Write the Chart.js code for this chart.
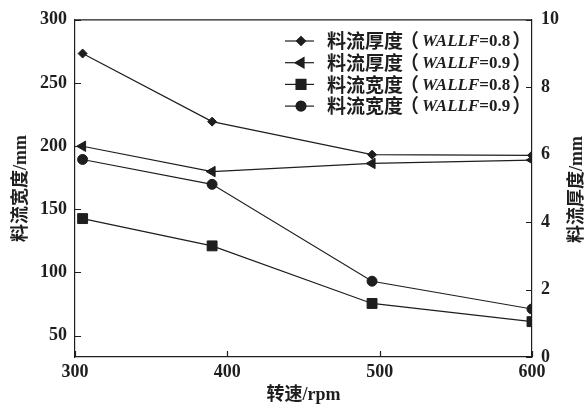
<!DOCTYPE html>
<html>
<head>
<meta charset="utf-8">
<script src="https://cdn.jsdelivr.net/npm/chart.js@4/dist/chart.umd.min.js"></script>
<style>
  html, body { margin: 0; padding: 0; background: #fff; }
  #wrap { width: 587px; height: 404px; }
</style>
</head>
<body>
<div id="wrap"><canvas id="flowChart"></canvas></div>
<script>
// rotating speed (rpm)
const speed = [305, 390, 495, 600];
// flow thickness, mm (right axis)
const thick08 = [9.0, 6.98, 6.0, 5.98];
const thick09 = [6.25, 5.5, 5.74, 5.84];
// flow width, mm (left axis)
const width08 = [142.6, 121, 75.4, 61];
const width09 = [189.4, 169.7, 93, 71];

const seriesLabels = ['料流厚度（WALLF=0.8）', '料流厚度（WALLF=0.9）', '料流宽度（WALLF=0.8）', '料流宽度（WALLF=0.9）'];
const xTicks = [300, 400, 500, 600];
const leftTicks = [50, 100, 150, 200, 250, 300];
const rightTicks = [0, 2, 4, 6, 8, 10];
const rightTitle = '料流厚度/mm';

const ink = '#1e1e1e';
const serif = '"Liberation Serif", "DejaVu Serif", serif';
const cjk = '"Noto Sans CJK SC", sans-serif';
const mixed = '"Liberation Serif", "Noto Sans CJK SC", serif';

function toPoints(ys) {
    return speed.map((x, i) => ({ x: x, y: ys[i] }));
}

function series(label, ys, axis, style, radius, rotation) {
    return {
        label: label,
        data: toPoints(ys),
        yAxisID: axis,
        borderColor: ink,
        backgroundColor: ink,
        borderWidth: 1.2,
        pointStyle: style,
        pointRadius: radius,
        pointRotation: rotation || 0,
        pointBorderWidth: 1,
        tension: 0,
        fill: false
    };
}

// inside ticks, top border, right title and the custom legend
const frame = {
    id: 'frame',
    afterDraw(chart) {
        const { ctx, chartArea: a, scales } = chart;
        ctx.save();
        ctx.strokeStyle = ink;
        ctx.lineWidth = 1.2;
        ctx.beginPath();
        ctx.moveTo(a.left, a.top);
        ctx.lineTo(a.right, a.top);
        scales.x.ticks.forEach(t => {
            const px = Math.round(scales.x.getPixelForValue(t.value)) + 0.5;
            ctx.moveTo(px, a.bottom);
            ctx.lineTo(px, a.bottom - 6);
        });
        scales.y.ticks.forEach(t => {
            const py = Math.round(scales.y.getPixelForValue(t.value)) + 0.5;
            ctx.moveTo(a.left, py);
            ctx.lineTo(a.left + 6, py);
        });
        scales.y1.ticks.forEach(t => {
            const py = Math.round(scales.y1.getPixelForValue(t.value)) + 0.5;
            ctx.moveTo(a.right, py);
            ctx.lineTo(a.right - 6, py);
        });
        ctx.stroke();

        // right axis title, reading bottom to top like the left one
        ctx.save();
        ctx.translate(577, (a.top + a.bottom) / 2 + 1);
        ctx.rotate(-Math.PI / 2);
        ctx.fillStyle = ink;
        ctx.font = 'bold 18px ' + mixed;
        ctx.textAlign = 'center';
        ctx.textBaseline = 'middle';
        ctx.fillText(rightTitle, 0, 0);
        ctx.restore();

        // legend
        const lx = 285, ly0 = 41, rowH = 21.7;
        chart.data.datasets.forEach((ds, i) => {
            const y = ly0 + i * rowH;
            ctx.strokeStyle = ink;
            ctx.lineWidth = 1.2;
            ctx.beginPath();
            ctx.moveTo(lx, y);
            ctx.lineTo(lx + 29, y);
            ctx.stroke();
            ctx.fillStyle = ink;
            Chart.helpers.drawPoint(ctx, {
                pointStyle: ds.pointStyle, radius: ds.pointRadius,
                rotation: ds.pointRotation, borderWidth: 1
            }, lx + 16, y);
            ctx.fill();

            const parts = ds.label.split('WALLF');
            const head = parts[0].replace('（', '');
            const tail = parts[1].replace('）', '');
            ctx.textBaseline = 'middle';
            ctx.textAlign = 'left';
            ctx.font = 'bold 19px ' + cjk;
            ctx.fillText(head, 327, y);
            ctx.fillText('（', 400, y);
            let tx = 422;
            ctx.font = 'italic bold 17px ' + serif;
            ctx.fillText('WALLF', tx, y + 1);
            tx += ctx.measureText('WALLF').width;
            ctx.font = 'bold 17px ' + serif;
            ctx.fillText(tail, tx, y + 1);
            tx += ctx.measureText(tail).width;
            ctx.font = 'bold 19px ' + cjk;
            ctx.fillText('）', tx + 2, y);
        });
        ctx.restore();
    }
};

const ctx = document.getElementById('flowChart').getContext('2d');
const flowChart = new Chart(ctx, {
    type: 'line',
    data: {
        datasets: [
            series(seriesLabels[0], thick08, 'y1', 'rectRot', 4.5),
            series(seriesLabels[1], thick09, 'y1', 'triangle', 6, -90),
            series(seriesLabels[2], width08, 'y', 'rect', 7),
            series(seriesLabels[3], width09, 'y', 'circle', 5)
        ]
    },
    options: {
        responsive: true,
        maintainAspectRatio: false,
        animation: false,
        layout: { padding: { top: 19, left: 0, right: 0, bottom: 0 } },
        scales: {
            x: {
                type: 'linear',
                min: 300,
                max: 600,
                afterBuildTicks: s => { s.ticks = xTicks.map(v => ({ value: v })); },
                afterFit: s => { s.height = 47; },
                grid: { display: false, drawTicks: false },
                border: { display: true, color: ink, width: 1.2 },
                ticks: { color: ink, padding: 5, font: { family: serif, size: 18, weight: 'bold' } },
                title: {
                    display: true, text: '转速/rpm', color: ink,
                    padding: { top: 0, bottom: 0 },
                    font: { family: mixed, size: 18, weight: 'bold', lineHeight: 1 }
                }
            },
            y: {
                position: 'left',
                min: 33,
                max: 300,
                afterBuildTicks: s => { s.ticks = leftTicks.map(v => ({ value: v })); },
                afterFit: s => { s.width = 75; },
                grid: { display: false, drawTicks: false },
                border: { display: true, color: ink, width: 1.2 },
                ticks: { color: ink, padding: 8, font: { family: serif, size: 18, weight: 'bold' } },
                title: {
                    display: true, text: '料流宽度/mm', color: ink,
                    padding: { top: 11, bottom: 0 },
                    font: { family: mixed, size: 18, weight: 'bold', lineHeight: 1.2 }
                }
            },
            y1: {
                position: 'right',
                min: 0,
                max: 10,
                afterBuildTicks: s => { s.ticks = rightTicks.map(v => ({ value: v })); },
                afterFit: s => { s.width = 55; },
                grid: { display: false, drawTicks: false },
                border: { display: true, color: ink, width: 1.2 },
                ticks: { color: ink, padding: 9, font: { family: serif, size: 18, weight: 'bold' } },
                title: { display: false }
            }
        },
        plugins: {
            legend: { display: false },
            tooltip: { enabled: false }
        }
    },
    plugins: [frame]
});
</script>
</body>
</html>
